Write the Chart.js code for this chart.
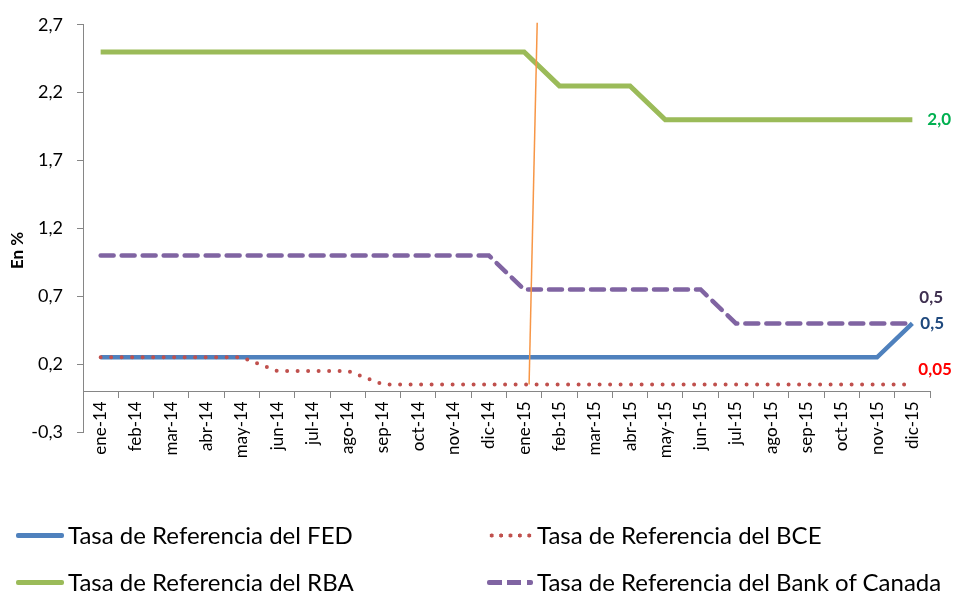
<!DOCTYPE html>
<html>
<head>
<meta charset="utf-8">
<script src="https://cdn.jsdelivr.net/npm/chart.js@4.4.1/dist/chart.umd.min.js"></script>
<style>
  body { margin: 0; background: #fff; }
  #wrap { position: relative; width: 954px; height: 592px; overflow: hidden; }
  .leg { position: absolute; font-family: Lato, sans-serif; font-size: 24px; line-height: 26px; color: #000;
         display: flex; align-items: center; white-space: nowrap; height: 26px; }
  .swatch { display: inline-block; width: 48px; height: 5px; margin-right: 4px; }
</style>
</head>
<body>
<div id="wrap">
  <canvas id="tasasChart"></canvas>
  <div id="legend"></div>
</div>
<script>
const meses = ['ene-14', 'feb-14', 'mar-14', 'abr-14', 'may-14', 'jun-14', 'jul-14', 'ago-14',
  'sep-14', 'oct-14', 'nov-14', 'dic-14', 'ene-15', 'feb-15', 'mar-15', 'abr-15', 'may-15',
  'jun-15', 'jul-15', 'ago-15', 'sep-15', 'oct-15', 'nov-15', 'dic-15'];

const fed = [0.25, 0.25, 0.25, 0.25, 0.25, 0.25, 0.25, 0.25, 0.25, 0.25, 0.25, 0.25,
  0.25, 0.25, 0.25, 0.25, 0.25, 0.25, 0.25, 0.25, 0.25, 0.25, 0.25, 0.5];
const bce = [0.25, 0.25, 0.25, 0.25, 0.25, 0.15, 0.15, 0.15, 0.05, 0.05, 0.05, 0.05,
  0.05, 0.05, 0.05, 0.05, 0.05, 0.05, 0.05, 0.05, 0.05, 0.05, 0.05, 0.05];
const rba = [2.5, 2.5, 2.5, 2.5, 2.5, 2.5, 2.5, 2.5, 2.5, 2.5, 2.5, 2.5,
  2.5, 2.25, 2.25, 2.25, 2.0, 2.0, 2.0, 2.0, 2.0, 2.0, 2.0, 2.0];
const canada = [1.0, 1.0, 1.0, 1.0, 1.0, 1.0, 1.0, 1.0, 1.0, 1.0, 1.0, 1.0,
  0.75, 0.75, 0.75, 0.75, 0.75, 0.75, 0.5, 0.5, 0.5, 0.5, 0.5, 0.5];

const nombres = ['Tasa de Referencia del FED', 'Tasa de Referencia del BCE',
  'Tasa de Referencia del RBA', 'Tasa de Referencia del Bank of Canada'];
const etiquetasFinales = ['0,5', '0,05', '2,0', '0,5'];
const yTicks = [-0.3, 0.2, 0.7, 1.2, 1.7, 2.2, 2.7];
const tituloY = 'En %';

// linea naranja suelta (indice de categoria, valor)
const marcaX = [12.37, 12.14];
const marcaY = [2.715, 0.05];

const colores = ['#4F81BD', '#C0504D', '#9BBB59', '#8064A2'];
const coloresEtiqueta = ['#1F497D', '#FF0000', '#00B050', '#403151'];
const desplaz = [[8, 0], [6, -15], [15, 0], [7, -26]];

const fmt = v => v.toFixed(1).replace('.', ',');

// etiquetas al final de cada serie, linea naranja y titulo del eje
const etiquetasPlugin = {
  id: 'etiquetas',
  afterDatasetsDraw(chart) {
    const ctx = chart.ctx;
    ctx.save();
    ctx.font = 'bold 17px Lato, sans-serif';
    ctx.textBaseline = 'middle';
    ctx.textAlign = 'left';
    chart.data.datasets.forEach((ds, i) => {
      const meta = chart.getDatasetMeta(i);
      const pt = meta.data[meta.data.length - 1];
      ctx.fillStyle = coloresEtiqueta[i];
      ctx.fillText(etiquetasFinales[i], pt.x + desplaz[i][0], pt.y + desplaz[i][1]);
    });
    const x = chart.scales.x, y = chart.scales.y;
    ctx.strokeStyle = '#F79646';
    ctx.lineWidth = 1.5;
    ctx.beginPath();
    ctx.moveTo(x.getPixelForValue(marcaX[0]), y.getPixelForValue(marcaY[0]));
    ctx.lineTo(x.getPixelForValue(marcaX[1]), y.getPixelForValue(marcaY[1]));
    ctx.stroke();

    const ca = chart.chartArea;
    ctx.translate(18, (ca.top + ca.bottom) / 2 + 22);
    ctx.rotate(-Math.PI / 2);
    ctx.textAlign = 'center';
    ctx.fillStyle = '#000';
    ctx.font = 'bold 17px Lato, sans-serif';
    ctx.fillText(tituloY, 0, 0);
    ctx.restore();
  }
};

const estilos = [
  { borderWidth: 4.5, order: 2 },
  { borderWidth: 4, borderDash: [0, 10.5], borderCapStyle: 'round', order: 1 },
  { borderWidth: 5, order: 3 },
  { borderWidth: 4.5, borderDash: [13, 8], borderCapStyle: 'round', order: 3 }
];
const series = [fed, bce, rba, canada];

new Chart(document.getElementById('tasasChart'), {
  type: 'line',
  data: {
    labels: meses,
    datasets: series.map((s, i) => Object.assign({
      label: nombres[i],
      data: s,
      borderColor: colores[i],
      backgroundColor: colores[i],
      pointRadius: 0,
      tension: 0,
      fill: false
    }, estilos[i]))
  },
  options: {
    responsive: true,
    maintainAspectRatio: false,
    animation: false,
    layout: { padding: { top: 20, right: 24, bottom: 160, left: 0 } },
    plugins: { legend: { display: false }, tooltip: { enabled: false } },
    scales: {
      x: {
        position: { y: 0 },
        offset: true,
        grid: { display: true, drawOnChartArea: false, tickLength: 6, color: '#868686', offset: true },
        border: { color: '#868686', width: 1 },
        ticks: {
          minRotation: 90, maxRotation: 90, autoSkip: false, padding: 4,
          color: '#000', font: { family: 'Lato, sans-serif', size: 17 }
        }
      },
      y: {
        min: -0.3,
        max: 2.7,
        afterBuildTicks: s => { s.ticks = yTicks.map(v => ({ value: v })); },
        afterFit: s => { s.width = 83; },
        grid: { display: true, drawOnChartArea: false, tickLength: 6, color: '#868686' },
        border: { color: '#868686', width: 1 },
        ticks: {
          padding: 14, color: '#000',
          font: { family: 'Lato, sans-serif', size: 18 },
          callback: v => fmt(v)
        }
      }
    }
  },
  plugins: [etiquetasPlugin]
});

// leyenda en dos columnas
const posLeyenda = [[16, 522], [487, 522], [16, 569], [487, 569]];
const muestras = [
  'background:#4F81BD;border-radius:2px;',
  'background-image:radial-gradient(circle, #C0504D 1.8px, transparent 2.3px);background-size:9.4px 5px;background-position:0 0;width:46px;',
  'background:#9BBB59;border-radius:2px;',
  'background:linear-gradient(90deg,#8064A2 0 15px,transparent 15px 20px,#8064A2 20px 34px,transparent 34px 40px,#8064A2 40px 46px,transparent 46px);border-radius:2px;width:46px;'
];
const leg = document.getElementById('legend');
nombres.forEach((n, i) => {
  const d = document.createElement('div');
  d.className = 'leg';
  d.style.left = posLeyenda[i][0] + 'px';
  d.style.top = posLeyenda[i][1] + 'px';
  d.innerHTML = '<span class="swatch" style="' + muestras[i] + '"></span><span>' + n + '</span>';
  leg.appendChild(d);
});
</script>
</body>
</html>
